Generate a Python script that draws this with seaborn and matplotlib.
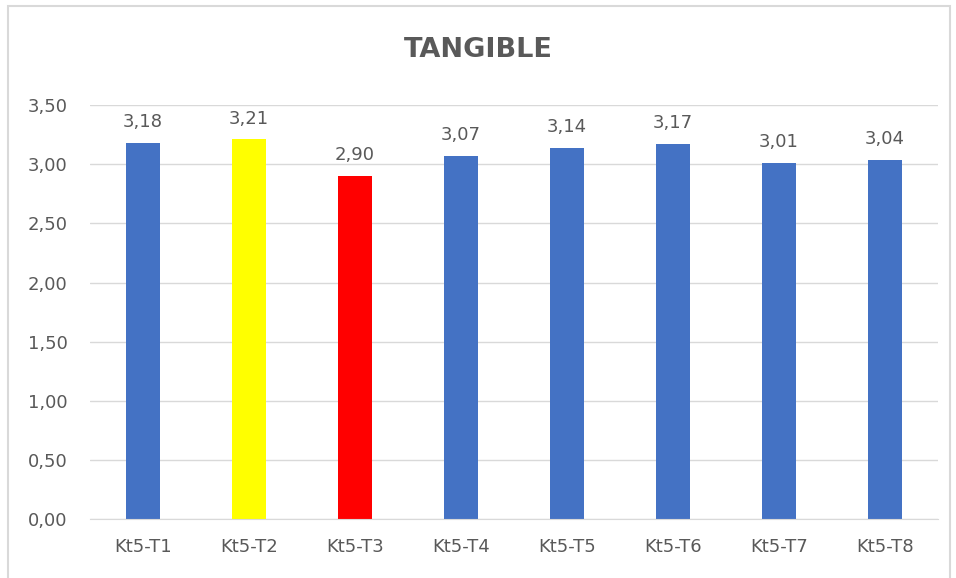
import matplotlib
matplotlib.use("Agg")
import matplotlib.pyplot as plt
import matplotlib.patches as mpatches
import seaborn as sns
import pandas as pd

categories = ["Kt5-T1", "Kt5-T2", "Kt5-T3", "Kt5-T4", "Kt5-T5", "Kt5-T6", "Kt5-T7", "Kt5-T8"]
values = [3.18, 3.21, 2.90, 3.07, 3.14, 3.17, 3.01, 3.04]
bar_colors = ["#4472C4", "#FFFF00", "#FF0000", "#4472C4", "#4472C4", "#4472C4", "#4472C4", "#4472C4"]
yticks = [0, 0.5, 1.0, 1.5, 2.0, 2.5, 3.0, 3.5]

sns.set_style("white")
plt.rcParams['font.family'] = ['DejaVu Sans']
txt = "#595959"

df = pd.DataFrame({"cat": categories, "val": values})

fig = plt.figure(figsize=(9.56, 5.78), dpi=100)
ax = fig.add_axes([0.0941, 0.102, 0.887, 0.716])
sns.barplot(data=df, x="cat", y="val", hue="cat", palette=bar_colors,
            width=0.32, legend=False, ax=ax, saturation=1, linewidth=0)

ax.set_ylim(0, 3.5)
ax.set_yticks(yticks)
ax.set_yticklabels([f"{v:.2f}".replace(".", ",") for v in yticks], color=txt, fontsize=13)
ax.set_xticklabels(categories, color=txt, fontsize=13)
ax.tick_params(axis="y", length=0, pad=16)
ax.tick_params(axis="x", length=0, pad=14)
ax.set_xlabel("")
ax.set_ylabel("")
ax.grid(axis="y", color="#d9d9d9", linewidth=1)
ax.set_axisbelow(True)
for s in ["top", "right", "left"]:
    ax.spines[s].set_visible(False)
ax.spines["bottom"].set_color("#d9d9d9")

for i, v in enumerate(values):
    ax.text(i, v + 0.1, f"{v:.2f}".replace(".", ","), ha="center", va="bottom",
            color=txt, fontsize=13)

fig.text(0.5, 0.913, "TANGIBLE", ha="center", va="center", fontsize=19.5,
         fontweight="bold", color=txt)

border = mpatches.Rectangle((8 / 956, -0.01), 942 / 956, 1 - 6 / 578 + 0.01,
                            transform=fig.transFigure, fill=False,
                            edgecolor="#d9d9d9", linewidth=1.5)
fig.patches.append(border)

fig.savefig("out.png", dpi=100)
